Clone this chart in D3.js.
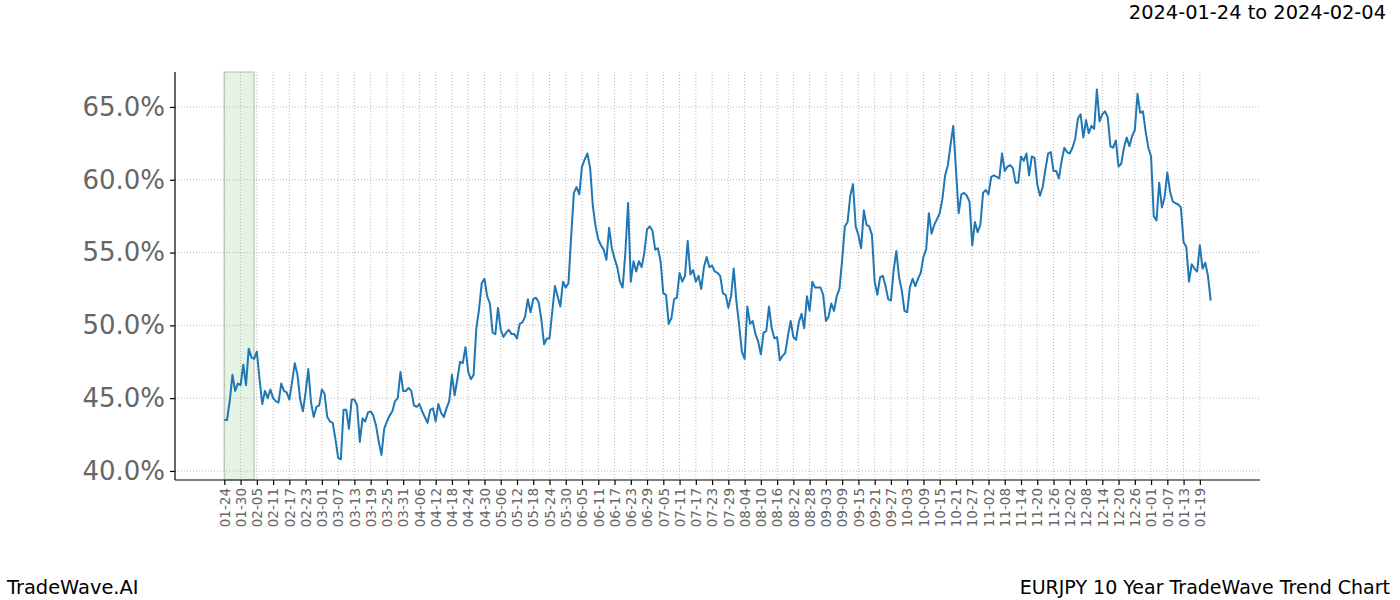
<!DOCTYPE html>
<html>
<head>
<meta charset="UTF-8">
<script src="https://cdn.jsdelivr.net/npm/d3@7"></script>
<style>
  body { margin: 0; background: #fff; }
  svg { font-family: "DejaVu Sans", sans-serif; }
</style>
</head>
<body>
<svg id="chart" width="1400" height="600"></svg>
<script>
// trend strength, one value per day (percent)
var trendValues = [
  43.5, 43.5, 44.8, 46.6, 45.5, 46.0, 45.9, 47.3, 45.9, 48.4,
  47.8, 47.7, 48.2, 46.3, 44.6, 45.5, 45.0, 45.6, 45.0, 44.8,
  44.7, 46.0, 45.5, 45.4, 44.9, 46.1, 47.4, 46.6, 44.9, 44.1,
  45.4, 47.0, 44.7, 43.7, 44.4, 44.5, 45.6, 45.3, 43.7, 43.4,
  43.3, 42.2, 40.9, 40.8, 44.2, 44.2, 42.9, 44.9, 44.9, 44.5,
  42.0, 43.6, 43.4, 44.0, 44.1, 43.8, 43.1, 42.0, 41.1, 42.9,
  43.4, 43.8, 44.1, 44.8, 45.0, 46.8,
  45.5, 45.5, 45.7, 45.5, 44.5, 44.4, 44.6, 44.1, 43.7, 43.3,
  44.2, 44.3, 43.4, 44.6, 44.0, 43.7, 44.3, 44.8, 46.6, 45.2,
  46.3, 47.5, 47.4, 48.5, 46.8, 46.3, 46.6, 49.8, 51.1, 52.9,
  53.2, 52.0, 51.5, 49.5, 49.4, 51.2, 49.7, 49.2, 49.5, 49.7,
  49.4, 49.4, 49.1, 50.1, 50.2, 50.6, 51.8, 50.9, 51.8, 51.9,
  51.6, 50.4, 48.7, 49.1, 49.1, 50.9, 52.7, 52.0, 51.3, 53.0,
  52.6, 52.9, 56.1, 59.1, 59.5, 59.0, 60.9, 61.4, 61.8, 60.8,
  58.2, 56.8, 55.9, 55.5, 55.2, 54.5, 56.7, 55.3, 54.6, 54.0,
  53.0, 52.6, 55.0, 58.4, 53.0,
  54.4, 53.7, 54.4, 54.0, 55.0, 56.6, 56.8, 56.5, 55.2, 55.3,
  54.4, 52.2, 52.1, 50.1, 50.5, 51.8, 51.9, 53.6, 53.0, 53.4,
  55.8, 53.5, 53.8, 53.0, 53.4, 52.5, 54.0, 54.7, 54.0, 54.1,
  53.7, 53.6, 53.4, 52.2, 52.1, 51.2, 52.0, 53.9, 51.6, 50.0,
  48.2, 47.7, 51.3, 50.1, 50.3, 49.4, 48.9, 48.0, 49.5, 49.6,
  51.3, 49.8, 49.1, 49.2, 47.6, 47.9, 48.1, 49.3, 50.3, 49.2,
  49.0, 50.2, 50.8, 49.8, 52.0, 51.0, 53.0, 52.6, 52.6, 52.6,
  52.1, 50.3, 50.6, 51.5, 51.0, 52.0, 52.5, 54.5, 56.8, 57.1,
  58.9, 59.7, 56.8, 56.2, 55.3,
  57.9, 56.9, 56.8, 56.2, 53.0, 52.1, 53.3, 53.4, 52.7, 51.8,
  51.7, 53.8, 55.1, 53.3, 52.4, 51.0, 50.9, 52.6, 53.2, 52.7,
  53.2, 53.6, 54.7, 55.2, 57.7, 56.3, 56.9, 57.3, 57.7, 58.7,
  60.3, 61.0, 62.4, 63.7, 60.7, 57.7, 59.0, 59.1, 58.9, 58.5,
  55.5, 57.1, 56.4, 56.9, 59.1, 59.3, 59.0, 60.2, 60.3, 60.2,
  60.1, 61.8, 60.6, 60.9, 61.0, 60.8, 59.8, 59.8, 61.6, 61.3,
  61.8, 60.3, 61.6, 61.5, 59.7, 58.9, 59.5, 60.7, 61.8, 61.9,
  60.6, 60.6, 60.1, 61.3, 62.2, 61.9, 61.8, 62.2, 62.8, 64.2,
  64.5, 62.9, 64.1, 63.2, 63.7, 63.5,
  66.2, 64.0, 64.5, 64.7, 64.3, 62.3, 62.2, 62.7, 60.9, 61.1,
  62.2, 62.9, 62.3, 63.0, 63.4, 65.9, 64.6, 64.7, 63.3, 62.2,
  61.6, 57.5, 57.2, 59.8, 58.1, 58.8, 60.5, 59.2, 58.5, 58.4,
  58.3, 58.1, 55.7, 55.4, 53.0, 54.2, 53.9, 53.7, 55.5, 53.9,
  54.3, 53.4, 51.7
];

// x tick labels, one every 6 points
var tickLabels = [
  "01-24","01-30","02-05","02-11","02-17","02-23","03-01","03-07","03-13","03-19",
  "03-25","03-31","04-06","04-12","04-18","04-24","04-30","05-06","05-12","05-18",
  "05-24","05-30","06-05","06-11","06-17","06-23","06-29","07-05","07-11","07-17",
  "07-23","07-29","08-04","08-10","08-16","08-22","08-28","09-03","09-09","09-15",
  "09-21","09-27","10-03","10-09","10-15","10-21","10-27","11-02","11-08","11-14",
  "11-20","11-26","12-02","12-08","12-14","12-20","12-26","01-01","01-07","01-13",
  "01-19"
];
var tickStep = 6;

var yTicks = [40, 45, 50, 55, 60, 65];

// highlighted window (index range)
var spanStart = 0;
var spanEnd = 11;

var titleText = "2024-01-24 to 2024-02-04";
var leftFooter = "TradeWave.AI";
var rightFooter = "EURJPY 10 Year TradeWave Trend Chart";

(function(){
  var mLeft = 175, mRight = 1260, mTop = 72, mBottom = 480;
  var svg = d3.select("#chart");

  var n = trendValues.length;
  var pad = (n - 1) * 0.05;
  var x = d3.scaleLinear().domain([-pad, n - 1 + pad]).range([mLeft, mRight]);
  var y = d3.scaleLinear().domain([39.38, 67.4]).range([mBottom, mTop]);

  // shaded window
  svg.append("rect")
    .attr("x", x(spanStart))
    .attr("y", mTop)
    .attr("width", x(spanEnd) - x(spanStart))
    .attr("height", mBottom - mTop)
    .attr("fill", "#2ca02c")
    .attr("fill-opacity", 0.12)
    .attr("stroke", "#9aa79a")
    .attr("stroke-opacity", 0.5)
    .attr("stroke-width", 1.5);

  // grid
  var tickIdx = tickLabels.map(function(d, i){ return i * tickStep; });
  svg.append("g").selectAll("line").data(tickIdx).enter().append("line")
    .attr("x1", function(d){ return x(d); })
    .attr("x2", function(d){ return x(d); })
    .attr("y1", mTop).attr("y2", mBottom)
    .attr("stroke", "#aaa").attr("stroke-width", 0.8)
    .attr("stroke-dasharray", "1,2");
  svg.append("g").selectAll("line").data(yTicks).enter().append("line")
    .attr("x1", mLeft).attr("x2", mRight)
    .attr("y1", function(d){ return y(d); })
    .attr("y2", function(d){ return y(d); })
    .attr("stroke", "#aaa").attr("stroke-width", 0.8)
    .attr("stroke-dasharray", "1,2");

  // line
  var line = d3.line()
    .x(function(d, i){ return x(i); })
    .y(function(d){ return y(d); });
  svg.append("path")
    .datum(trendValues)
    .attr("d", line)
    .attr("fill", "none")
    .attr("stroke", "#1f77b4")
    .attr("stroke-width", 2)
    .attr("stroke-linejoin", "round");

  // axes
  var yAxis = d3.axisLeft(y)
    .tickValues(yTicks)
    .tickSize(5)
    .tickPadding(5)
    .tickFormat(function(d){ return d.toFixed(1) + "%"; });
  var gy = svg.append("g").attr("transform", "translate(" + mLeft + ",0)").call(yAxis);
  gy.select(".domain").attr("d", "M0," + mTop + "V" + mBottom).attr("stroke", "#000").attr("stroke-width", 1.2);
  gy.selectAll(".tick line").attr("stroke", "#000").attr("stroke-width", 1.2);
  gy.selectAll(".tick text")
    .attr("fill", "#666")
    .style("font-size", "26px")
    .style("font-family", "'DejaVu Sans', sans-serif");

  var xAxis = d3.axisBottom(x)
    .tickValues(tickIdx)
    .tickSize(5)
    .tickFormat(function(d){ return tickLabels[d / tickStep]; });
  var gx = svg.append("g").attr("transform", "translate(0," + mBottom + ")").call(xAxis);
  gx.select(".domain").attr("d", "M" + mLeft + ",0H" + mRight).attr("stroke", "#000").attr("stroke-width", 1.2);
  gx.selectAll(".tick line").attr("stroke", "#000").attr("stroke-width", 1.2);
  gx.selectAll(".tick text")
    .attr("fill", "#666")
    .attr("transform", "rotate(-90)")
    .attr("text-anchor", "end")
    .attr("x", -8)
    .attr("y", 0)
    .attr("dy", "0.35em")
    .style("font-size", "13.5px")
    .style("font-family", "'DejaVu Sans', sans-serif");

  // texts
  svg.append("text")
    .attr("x", 1386).attr("y", 19)
    .attr("text-anchor", "end")
    .style("font-size", "19.4px")
    .text(titleText);
  svg.append("text")
    .attr("x", 7).attr("y", 594)
    .style("font-size", "19.4px")
    .text(leftFooter);
  svg.append("text")
    .attr("x", 1390).attr("y", 594)
    .attr("text-anchor", "end")
    .style("font-size", "19px")
    .text(rightFooter);
})();
</script>
</body>
</html>
